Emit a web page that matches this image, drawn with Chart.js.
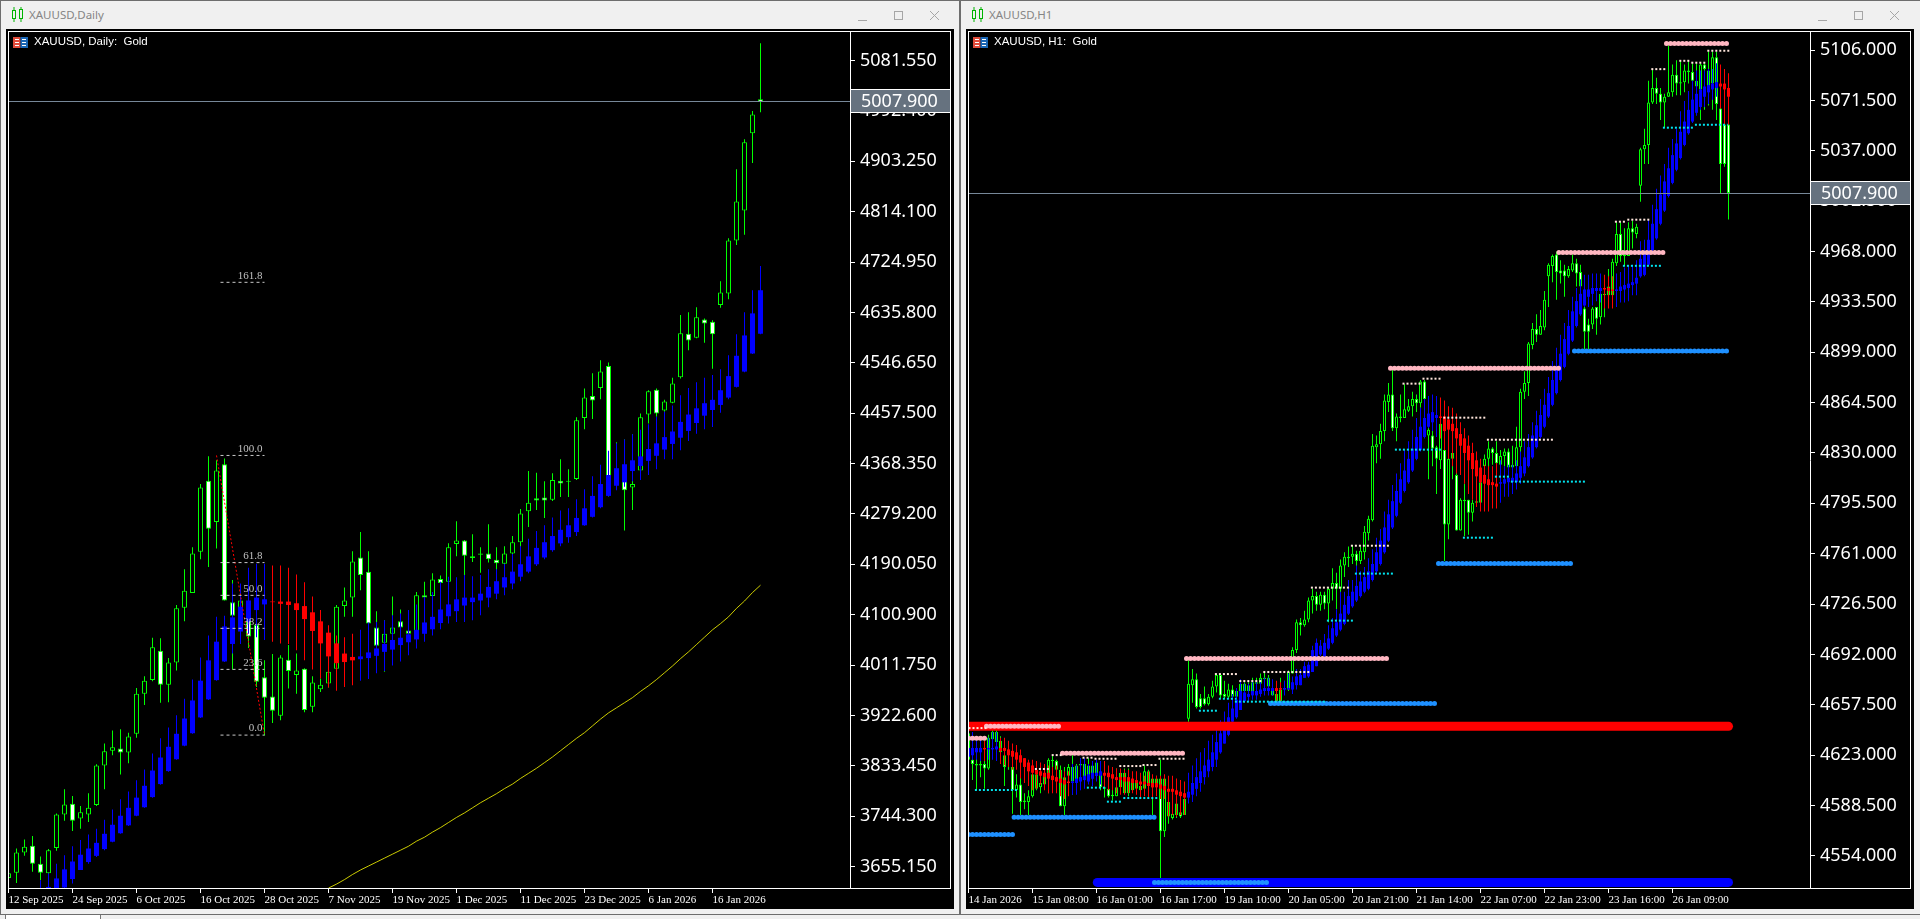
<!DOCTYPE html>
<html>
<head>
<meta charset="utf-8">
<title>XAUUSD</title>
<script src="https://cdn.jsdelivr.net/npm/chart.js@4"></script>
<style>
html, body { margin: 0; padding: 0; width: 1920px; height: 919px; overflow: hidden; background: #f0f0f0; }
.abs { position: absolute; }
.panel { position: absolute; top: 29px; width: 948px; height: 880px; background: #000; }
.frame { position: absolute; top: 31px; width: 943px; height: 858px; box-sizing: border-box; border: 1px solid #fff; z-index: 3; pointer-events: none; }
canvas { position: absolute; top: 32px; z-index: 2; }
.title { position: absolute; top: 7px; font: 11.5px "Noto Sans", sans-serif; color: #858585; }
.legend { position: absolute; top: 35px; font: 11.5px "Liberation Sans Narrow", sans-serif; color: #fff; z-index: 4; white-space: pre; }
svg { position: absolute; z-index: 4; }
</style>
</head>
<body>
<div class="abs" style="left:0;top:0;width:1920px;height:1px;background:#6d6d6d"></div>
<div class="abs" style="left:0;top:0;width:1px;height:914px;background:#6d6d6d"></div>
<div class="abs" style="left:959px;top:0;width:2px;height:914px;background:#6d6d6d"></div>
<div class="abs" style="left:0;top:914px;width:1920px;height:1px;background:#6d6d6d"></div>
<div class="abs" style="left:5px;top:915px;width:94px;height:4px;background:#fff;border-left:1px solid #777;border-right:1px solid #777"></div>

<div class="panel" style="left:6px"></div>
<div class="panel" style="left:966px"></div>
<div class="frame" style="left:8px"></div>
<div class="frame" style="left:968px"></div>
<canvas id="dailyChart" width="943" height="877" style="left:8px"></canvas>
<canvas id="hourChart" width="943" height="877" style="left:968px"></canvas>

<div class="title" style="left:29px">XAUUSD,Daily</div>
<div class="title" style="left:989px">XAUUSD,H1</div>
<div class="legend" style="left:34px">XAUUSD, Daily:  Gold</div>
<div class="legend" style="left:994px">XAUUSD, H1:  Gold</div>

<svg style="left:12px;top:7px" width="12" height="15"><g fill="none" stroke="#00b400"><rect x="0.5" y="3.5" width="3" height="8"/><rect x="7.5" y="2.5" width="3" height="9"/><path d="M2 0v3M2 12v3M9 0v3M9 12v3"/></g></svg>
<svg style="left:972px;top:7px" width="12" height="15"><g fill="none" stroke="#00b400"><rect x="0.5" y="3.5" width="3" height="8"/><rect x="7.5" y="2.5" width="3" height="9"/><path d="M2 0v3M2 12v3M9 0v3M9 12v3"/></g></svg>
<svg style="left:13px;top:37px" width="15" height="11"><rect width="7.5" height="11" fill="#e04b3a"/><rect x="7.5" width="7.5" height="11" fill="#1a66b5"/><path d="M2 2.5h4M2 5.5h4M2 8.5h4M9 2.5h4M9 5.5h4M9 8.5h4" stroke="#fff"/></svg>
<svg style="left:973px;top:37px" width="15" height="11"><rect width="7.5" height="11" fill="#e04b3a"/><rect x="7.5" width="7.5" height="11" fill="#1a66b5"/><path d="M2 2.5h4M2 5.5h4M2 8.5h4M9 2.5h4M9 5.5h4M9 8.5h4" stroke="#fff"/></svg>
<svg style="left:858px;top:10px" width="84" height="12"><g fill="none" stroke="#a6a6a6"><path d="M0 10.5h9"/><rect x="36.5" y="1.5" width="8" height="8"/><path d="M72 1l9 9M81 1l-9 9"/></g></svg>
<svg style="left:1818px;top:10px" width="84" height="12"><g fill="none" stroke="#a6a6a6"><path d="M0 10.5h9"/><rect x="36.5" y="1.5" width="8" height="8"/><path d="M72 1l9 9M81 1l-9 9"/></g></svg>

<script>
const lastPrice = 5007.9;

// Daily chart
const dailyTickDates = ['12 Sep 2025', '24 Sep 2025', '6 Oct 2025', '16 Oct 2025', '28 Oct 2025', '7 Nov 2025',
    '19 Nov 2025', '1 Dec 2025', '11 Dec 2025', '23 Dec 2025', '6 Jan 2026', '16 Jan 2026'];
const dailyPriceTicks = [5081.55, 4992.4, 4903.25, 4814.1, 4724.95, 4635.8, 4546.65, 4457.5, 4368.35, 4279.2,
    4190.05, 4100.9, 4011.75, 3922.6, 3833.45, 3744.3, 3655.15];

const dailyOpen = [
    3635,3644,3680,3692,3660,3643,3688,3747,3766,3740,
    3747,3764,3834,3860,3864,3857,3890,3961,3985,4037,
    3977,4016,4113,4139,4212,4338,4265,4367,4123,4097,
    4092,4083,3990,3956,3922,4021,3994,4005,3938,3969,
    3979,4005,4116,4131,4202,4177,4078,4051,4067,4089,
    4073,4067,4135,4134,4164,4159,4226,4232,4204,4207,
    4209,4198,4191,4209,4229,4284,4307,4308,4304,4338,
    4336,4341,4449,4488,4502,4541,4336,4342,4326,4356,
    4455,4499,4462,4476,4521,4598,4591,4623,4619,4649,
    4669,4763,4816,4953,5013];
const dailyHigh = [
    3646,3687,3703,3709,3673,3686,3749,3792,3780,3762,
    3785,3836,3873,3896,3898,3892,3971,3992,4060,4059,
    4024,4118,4181,4220,4332,4381,4374,4377,4162,4138,
    4115,4091,4020,4031,4029,4047,4032,4006,3992,3988,
    4000,4118,4149,4213,4247,4213,4107,4091,4133,4110,
    4106,4141,4159,4174,4170,4227,4266,4233,4243,4220,
    4261,4220,4222,4240,4288,4355,4352,4337,4351,4376,
    4358,4450,4501,4528,4551,4547,4406,4411,4420,4457,
    4498,4501,4481,4520,4631,4636,4645,4625,4622,4691,
    4767,4889,4942,4992,5112];
const dailyLow = [
    3628,3626,3674,3646,3631,3619,3683,3736,3718,3722,
    3734,3762,3792,3852,3818,3838,3883,3941,3983,3945,
    3946,4002,4089,4139,4199,4185,4218,4126,4004,4050,
    4042,3973,3887,3909,3914,3970,3961,3928,3928,3964,
    3972,4002,4097,4097,4144,4067,4038,4000,4056,4067,
    4061,4061,4079,4132,4138,4156,4204,4169,4194,4175,
    4193,4180,4183,4197,4221,4256,4286,4272,4302,4309,
    4309,4339,4429,4447,4482,4310,4327,4250,4286,4355,
    4439,4451,4460,4475,4519,4569,4590,4582,4536,4644,
    4659,4755,4773,4900,4990];
const dailyClose = [
    3643,3680,3690,3660,3644,3684,3747,3765,3736,3751,
    3759,3834,3859,3866,3857,3885,3961,3984,4043,3977,
    4016,4112,4143,4209,4326,4253,4356,4126,4099,4126,
    4062,3982,3954,3931,4025,4001,4002,3932,3981,3977,
    4000,4115,4126,4195,4171,4085,4046,4067,4078,4078,
    4067,4135,4131,4163,4157,4220,4232,4205,4201,4209,
    4199,4192,4209,4229,4280,4299,4303,4303,4339,4333,
    4338,4445,4485,4480,4531,4321,4351,4321,4332,4450,
    4496,4457,4478,4510,4599,4586,4627,4616,4597,4671,
    4763,4832,4937,4986,5008];

// smoothed candles on top of the price
const dailyHaOpen = [
    null,null,null,null,3595,3600,3607,3618,3633,3649,
    3663,3674,3686,3699,3714,3728,3745,3760,3778,3801,
    3824,3845,3869,3891,3919,3951,3985,4018,4049,4071,
    4089,4109,4119,4124,4124,4124,4121,4116,4105,4089,
    4069,4050,4032,4026,4022,4024,4028,4035,4039,4047,
    4052,4057,4067,4075,4086,4098,4107,4117,4123,4126,
    4131,4138,4149,4156,4168,4177,4190,4202,4215,4227,
    4238,4247,4259,4274,4291,4311,4329,4335,4355,4364,
    4373,4382,4393,4403,4414,4426,4440,4453,4463,4472,
    4485,4504,4531,4563,4598];
const dailyHaHigh = [
    null,null,null,null,3631,3643,3660,3675,3691,3702,
    3712,3722,3738,3756,3774,3788,3808,3827,3855,3882,
    3901,3923,3952,3986,4025,4064,4097,4099,4156,4156,
    4184,4191,4191,4188,4188,4184,4172,4158,4133,4109,
    4082,4064,4061,4067,4074,4087,4088,4091,4100,4103,
    4109,4119,4132,4141,4159,4168,4167,4171,4169,4171,
    4181,4181,4191,4208,4222,4235,4249,4259,4273,4285,
    4289,4305,4323,4346,4366,4391,4404,4411,4420,4428,
    4438,4451,4460,4471,4489,4502,4512,4520,4525,4535,
    4560,4597,4636,4675,4718];
const dailyHaLow = [
    null,null,null,null,3585,3590,3598,3610,3625,3649,
    3660,3672,3684,3698,3713,3727,3744,3759,3777,3800,
    3823,3844,3868,3890,3918,3950,3984,4017,4032,4049,
    4067,4061,4056,4053,4050,4049,4038,4020,4004,3988,
    3972,3966,3973,3976,3984,3987,3997,4001,4011,4018,
    4029,4041,4053,4064,4075,4085,4088,4088,4091,4100,
    4114,4128,4135,4146,4160,4174,4187,4199,4212,4222,
    4228,4240,4258,4273,4289,4310,4321,4327,4337,4339,
    4348,4358,4376,4376,4392,4408,4421,4429,4433,4458,
    4482,4503,4530,4562,4597];
const dailyHaClose = [
    null,null,null,null,3612,3619,3634,3650,3664,3676,
    3687,3697,3713,3729,3745,3759,3777,3798,3825,3848,
    3867,3890,3917,3949,3984,4020,4053,4080,4096,4115,
    4126,4131,4128,4123,4120,4118,4109,4093,4072,4050,
    4027,4015,4017,4020,4027,4034,4041,4049,4056,4060,
    4066,4074,4087,4097,4110,4119,4128,4131,4131,4138,
    4150,4160,4167,4177,4190,4204,4219,4229,4240,4251,
    4259,4272,4289,4311,4332,4348,4360,4367,4374,4381,
    4394,4404,4415,4425,4442,4455,4466,4475,4481,4498,
    4523,4559,4595,4634,4675];

// long moving average, first visible on bar 40
const dailyMaStart = 40;
const dailyMa = [
    3617,3624,3632,3641,3649,3656,3663,3670,3677,3684,
    3691,3700,3707,3716,3724,3733,3742,3750,3759,3768,
    3776,3784,3793,3801,3811,3820,3829,3839,3849,3860,
    3871,3882,3892,3904,3916,3927,3936,3945,3954,3965,
    3975,3986,3998,4010,4023,4035,4048,4061,4074,4085,
    4097,4112,4125,4140,4153];

const fibLabels = ['161.8', '100.0', '61.8', '50.0', '38.2', '23.6', '0.0'];
const fibPrices = [4689, 4382.6, 4193, 4135, 4076.6, 4004, 3887.7];
const fibFromBar = 26.5;
const fibToBar = 32;
const trendBars = [26, 32];
const trendPrices = [4382.6, 3887.7];

// H1 chart
const hourTickDates = ['14 Jan 2026', '15 Jan 08:00', '16 Jan 01:00', '16 Jan 17:00', '19 Jan 10:00', '20 Jan 05:00',
    '20 Jan 21:00', '21 Jan 14:00', '22 Jan 07:00', '22 Jan 23:00', '23 Jan 16:00', '26 Jan 09:00'];
const hourPriceTicks = [5106, 5071.5, 5037, 5002.5, 4968, 4933.5, 4899, 4864.5, 4830, 4795.5, 4761, 4726.5, 4692,
    4657.5, 4623, 4588.5, 4554];

const hourOpen = [
    4620,4620,4617,4617,4617,4614,4634,4639,4625,4623,
    4615,4615,4599,4603,4592,4591,4595,4610,4601,4603,
    4610,4619,4619,4613,4588,4609,4615,4605,4616,4617,
    4607,4607,4609,4610,4601,4600,4595,4595,4601,4611,
    4597,4599,4600,4599,4600,4612,4601,4607,4607,4571,
    4591,4580,4582,4584,4582,4648,4671,4675,4662,4662,
    4658,4663,4670,4678,4665,4663,4668,4663,4672,4667,
    4671,4667,4673,4672,4676,4676,4664,4665,4660,4668,
    4668,4679,4695,4714,4712,4716,4729,4732,4726,4733,
    4727,4737,4741,4737,4753,4758,4759,4761,4756,4762,
    4775,4784,4834,4836,4845,4865,4870,4847,4854,4854,
    4859,4862,4867,4864,4879,4842,4842,4834,4825,4832,
    4781,4826,4815,4777,4798,4798,4789,4796,4796,4821,
    4826,4833,4830,4822,4828,4831,4820,4821,4834,4872,
    4878,4904,4915,4911,4916,4951,4958,4966,4955,4955,
    4951,4955,4960,4954,4929,4918,4918,4930,4923,4939,
    4938,4938,4960,4980,4966,4965,4984,4980,5013,5038,
    5041,5070,5080,5076,5070,5074,5077,5089,5083,5084,
    5092,5091,5081,5079,5096,5079,5083,5101,5066,5055,5055];
const hourHigh = [
    4639,4639,4632,4620,4628,4637,4640,4640,4636,4623,
    4616,4615,4610,4610,4597,4599,4612,4610,4610,4610,
    4621,4623,4620,4616,4615,4617,4623,4617,4621,4617,
    4621,4616,4619,4618,4610,4609,4609,4614,4611,4614,
    4614,4607,4605,4603,4616,4613,4607,4609,4620,4607,
    4591,4586,4590,4590,4593,4688,4682,4679,4665,4670,
    4665,4674,4679,4679,4674,4672,4671,4668,4672,4673,
    4673,4676,4676,4679,4680,4678,4670,4672,4676,4674,
    4681,4697,4716,4717,4722,4731,4737,4735,4735,4735,
    4738,4751,4748,4757,4762,4766,4767,4763,4766,4780,
    4787,4843,4842,4850,4870,4878,4888,4857,4870,4877,
    4867,4872,4870,4880,4880,4860,4848,4835,4850,4850,
    4850,4842,4819,4799,4809,4798,4798,4810,4821,4829,
    4838,4834,4838,4832,4833,4833,4835,4848,4874,4886,
    4906,4919,4925,4928,4941,4960,4966,4968,4962,4959,
    4958,4966,4963,4959,4943,4922,4930,4930,4939,4941,
    4956,4963,4988,4988,4984,4988,4989,4987,5039,5052,
    5085,5093,5087,5080,5076,5109,5096,5099,5099,5096,
    5099,5097,5097,5097,5097,5105,5105,5105,5068,5056,5056];
const hourLow = [
    4615,4606,4599,4608,4600,4613,4625,4628,4617,4602,
    4613,4583,4594,4582,4586,4582,4594,4599,4597,4600,
    4597,4612,4613,4588,4582,4604,4596,4604,4611,4607,
    4606,4606,4608,4599,4594,4594,4592,4595,4600,4597,
    4595,4598,4597,4596,4599,4600,4582,4600,4539,4567,
    4576,4579,4580,4580,4582,4646,4659,4655,4655,4657,
    4657,4662,4666,4662,4662,4662,4662,4661,4665,4665,
    4665,4665,4665,4667,4668,4668,4664,4660,4660,4665,
    4667,4679,4693,4705,4711,4714,4720,4722,4722,4723,
    4714,4729,4723,4729,4745,4752,4754,4748,4754,4757,
    4770,4783,4823,4826,4838,4858,4845,4838,4851,4854,
    4858,4855,4858,4861,4854,4812,4821,4802,4819,4756,
    4771,4812,4777,4777,4773,4774,4783,4793,4796,4805,
    4816,4822,4819,4819,4821,4820,4820,4820,4830,4867,
    4869,4901,4906,4911,4914,4930,4947,4935,4946,4937,
    4950,4954,4944,4944,4901,4901,4915,4911,4918,4923,
    4938,4938,4958,4961,4958,4965,4970,4977,5002,5028,
    5028,5069,5069,5058,5053,5074,5074,5075,5075,5077,
    5083,5079,5072,5058,5065,5068,5065,5058,5008,5026,4990];
const hourClose = [
    4638,4617,4616,4616,4614,4635,4639,4632,4633,4615,
    4615,4599,4603,4591,4591,4595,4610,4600,4604,4610,
    4620,4620,4613,4588,4608,4615,4605,4616,4617,4608,
    4616,4616,4618,4601,4600,4595,4596,4601,4611,4597,
    4606,4606,4604,4602,4612,4602,4607,4602,4571,4607,
    4581,4583,4590,4581,4593,4672,4675,4656,4656,4658,
    4663,4670,4678,4664,4663,4668,4663,4667,4667,4672,
    4667,4673,4672,4676,4675,4670,4668,4660,4668,4669,
    4680,4695,4714,4712,4716,4729,4732,4726,4733,4727,
    4737,4741,4737,4753,4759,4759,4761,4756,4763,4776,
    4785,4835,4836,4845,4866,4870,4847,4855,4855,4860,
    4862,4867,4864,4879,4867,4846,4833,4826,4850,4781,
    4826,4830,4777,4798,4797,4789,4796,4797,4810,4826,
    4833,4830,4823,4828,4831,4820,4822,4834,4872,4878,
    4905,4915,4911,4917,4935,4959,4965,4954,4953,4951,
    4956,4960,4953,4944,4913,4913,4929,4922,4939,4938,
    4944,4961,4980,4965,4965,4984,4981,4985,5038,5041,
    5070,5080,5076,5070,5074,5077,5089,5083,5084,5092,
    5091,5085,5085,5096,5093,5092,5101,5069,5028,5028,5008];

const hourHaOpen = [
    4622,4623,4625,4625,4628,4627,4627,4627,4628,4628,
    4627,4626,4625,4623,4621,4618,4616,4613,4612,4611,
    4611,4609,4608,4607,4606,4605,4604,4604,4605,4606,
    4605,4607,4609,4609,4611,4611,4610,4608,4608,4608,
    4608,4607,4606,4605,4605,4604,4604,4604,4603,4602,
    4600,4600,4599,4598,4597,4594,4596,4600,4604,4608,
    4612,4615,4620,4625,4631,4637,4646,4649,4654,4660,
    4663,4664,4664,4665,4667,4667,4667,4669,4669,4668,
    4668,4668,4671,4671,4676,4677,4680,4684,4692,4691,
    4696,4700,4705,4709,4713,4720,4725,4729,4732,4735,
    4737,4743,4749,4754,4762,4770,4779,4787,4796,4804,
    4810,4818,4826,4832,4841,4848,4851,4854,4855,4855,
    4853,4850,4847,4843,4840,4835,4830,4825,4820,4815,
    4812,4810,4809,4809,4809,4810,4810,4810,4813,4816,
    4821,4827,4834,4841,4848,4855,4863,4871,4880,4889,
    4898,4907,4917,4925,4931,4937,4939,4941,4941,4943,
    4943,4942,4941,4941,4942,4943,4945,4946,4951,4952,
    4959,4969,4977,4987,4996,5006,5015,5024,5032,5041,
    5049,5057,5063,5067,5074,5077,5079,5080,5083,5083,5080];
const hourHaHigh = [
    4639,4639,4636,4635,4633,4635,4639,4639,4635,4635,
    4633,4631,4630,4627,4621,4620,4620,4619,4618,4617,
    4616,4615,4616,4613,4612,4612,4617,4616,4621,4621,
    4617,4619,4620,4619,4619,4616,4615,4614,4614,4613,
    4613,4612,4612,4611,4609,4612,4610,4609,4609,4610,
    4609,4609,4607,4606,4605,4611,4616,4621,4625,4628,
    4633,4637,4641,4647,4653,4659,4665,4669,4675,4672,
    4672,4673,4673,4675,4676,4676,4675,4674,4673,4674,
    4679,4677,4682,4682,4687,4687,4698,4703,4702,4706,
    4712,4717,4723,4735,4735,4743,4743,4753,4749,4752,
    4758,4764,4772,4778,4790,4798,4808,4816,4823,4832,
    4838,4846,4854,4861,4867,4869,4870,4869,4868,4866,
    4862,4861,4857,4851,4847,4842,4837,4831,4826,4822,
    4821,4821,4823,4825,4821,4822,4822,4825,4831,4838,
    4843,4851,4859,4867,4874,4882,4893,4902,4911,4919,
    4928,4937,4943,4949,4952,4952,4953,4953,4953,4952,
    4951,4951,4953,4954,4957,4958,4959,4962,4975,4976,
    4990,5000,5011,5020,5028,5039,5045,5052,5064,5071,
    5078,5085,5092,5092,5092,5093,5093,5097,5096,5093,5090];
const hourHaLow = [
    4619,4620,4620,4619,4619,4620,4620,4619,4617,4616,
    4615,4613,4613,4607,4604,4602,4599,4600,4603,4599,
    4597,4597,4597,4595,4593,4595,4596,4596,4599,4600,
    4603,4602,4605,4603,4601,4599,4599,4597,4596,4596,
    4597,4597,4596,4593,4595,4593,4593,4595,4593,4593,
    4581,4582,4581,4582,4582,4590,4591,4595,4598,4603,
    4608,4612,4615,4624,4631,4636,4645,4648,4654,4659,
    4660,4661,4661,4663,4664,4664,4664,4659,4660,4664,
    4668,4665,4668,4671,4676,4676,4680,4684,4691,4690,
    4695,4699,4704,4708,4712,4719,4724,4728,4731,4734,
    4736,4742,4748,4753,4761,4769,4778,4786,4795,4803,
    4809,4817,4825,4831,4840,4847,4845,4841,4840,4832,
    4826,4821,4816,4815,4809,4802,4798,4793,4790,4790,
    4790,4792,4792,4796,4800,4800,4802,4805,4809,4814,
    4820,4826,4833,4840,4847,4854,4862,4870,4879,4888,
    4897,4906,4916,4924,4930,4930,4931,4934,4933,4929,
    4929,4929,4930,4933,4933,4934,4938,4938,4950,4951,
    4958,4968,4976,4986,4995,5005,5014,5023,5031,5040,
    5048,5056,5061,5065,5067,5069,5072,5074,5066,5055,5055];
const hourHaClose = [
    4628,4628,4628,4628,4627,4628,4628,4629,4626,4626,
    4623,4622,4620,4618,4615,4612,4611,4610,4609,4608,
    4607,4606,4605,4604,4603,4604,4605,4607,4608,4609,
    4610,4611,4611,4612,4609,4608,4607,4606,4606,4605,
    4605,4604,4604,4603,4603,4602,4601,4601,4600,4599,
    4598,4598,4596,4595,4594,4598,4604,4608,4612,4616,
    4620,4625,4632,4638,4644,4649,4655,4661,4667,4666,
    4665,4667,4667,4668,4669,4669,4669,4667,4668,4669,
    4669,4673,4677,4678,4684,4685,4695,4700,4698,4700,
    4703,4710,4714,4720,4726,4732,4735,4739,4742,4745,
    4749,4754,4762,4770,4779,4788,4797,4804,4812,4818,
    4826,4833,4841,4848,4854,4857,4858,4856,4854,4845,
    4846,4845,4840,4835,4830,4825,4819,4814,4810,4809,
    4808,4808,4807,4810,4812,4813,4813,4816,4821,4827,
    4834,4842,4849,4856,4863,4871,4880,4889,4898,4908,
    4917,4927,4934,4939,4942,4942,4943,4943,4943,4942,
    4941,4941,4942,4944,4945,4946,4947,4950,4963,4967,
    4976,4987,4997,5007,5016,5025,5034,5042,5050,5057,
    5065,5072,5076,5079,5081,5082,5083,5084,5081,5079,5074];

// levels as [from bar, to bar, price]
const redLevel = [[-1, 190, 4642.8]];
const blueLevel = [[32.2, 190, 4535.9]];
const pinkLevels = [[0, 4.5, 4634.6], [4.5, 23.5, 4642.8], [23.5, 54.5, 4624.3], [54.5, 105.5, 4689.3],
    [105.5, 147.6, 4888], [147.6, 174.5, 4967.4], [174.5, 190.5, 5110.5]];
const supportLevels = [[0, 11.4, 4568.8], [11.4, 46.5, 4580.5], [46.5, 75.5, 4535.9], [75.5, 117.5, 4658.5],
    [117.5, 151.5, 4754.4], [151.5, 190.3, 4899.8]];
const minorHighs = [[0, 4.5, 4641.6], [16.6, 20.4, 4613.6], [20.8, 23.5, 4623.1], [28.5, 31.5, 4621.3],
    [31.5, 37.5, 4620.6], [37.7, 43.5, 4615.6], [43.5, 47.5, 4616.3], [47.5, 54.5, 4620.6], [61.6, 67.5, 4678.6],
    [67.7, 73.7, 4673.8], [73.7, 85.4, 4680], [85.6, 95.4, 4737.8], [95.6, 105.4, 4766.5], [108.5, 113.5, 4877.5],
    [113.5, 118.4, 4880.9], [118.7, 129.4, 4854.2], [129.6, 146.4, 4839.1], [161.6, 164.4, 4988.4],
    [164.7, 170.4, 4989.8], [170.7, 174.4, 5092.9], [177.7, 180.4, 5098.6], [180.7, 184.4, 5097.3],
    [184.7, 190.4, 5105.5]];
const minorLows = [[1.6, 12.5, 4599.2], [29.6, 34.3, 4600.8], [34.6, 38.5, 4591.2], [38.7, 47.5, 4593.7],
    [57.6, 62.3, 4653.5], [62.6, 67, 4661.7], [66.6, 89.5, 4659.7], [89.6, 96.4, 4715.2], [96.6, 106.4, 4747.4],
    [106.6, 118.4, 4832.3], [123.6, 131.4, 4772], [131.6, 135.4, 4813.8], [135.6, 154.4, 4810.4],
    [163.6, 173.4, 4958.2], [173.6, 181.4, 5052.8], [181.6, 189.8, 5054.8]];

function candleSets(open, high, low, close, bodyWidth, order) {
    var wick = [], body = [], fill = [];
    open.forEach(function(o, i) {
        wick.push({ x: i, y: [low[i], high[i]] });
        body.push({ x: i, y: [o, close[i]] });
        fill.push(close[i] >= o ? '#000000' : '#ffffff');
    });
    return [
        { type: 'bar', data: wick, barThickness: 1, backgroundColor: '#00ff00', order: order + 1 },
        { type: 'bar', data: body, barThickness: bodyWidth, backgroundColor: fill, borderColor: '#00ff00', borderWidth: 1, order: order }
    ];
}

function haSets(open, high, low, close, bodyWidth, order) {
    var wick = [], body = [];
    open.forEach(function(o, i) {
        if (o === null) return;
        wick.push({ x: i, y: [low[i], high[i]] });
        body.push({ x: i, y: [o, close[i]] });
    });
    var colors = body.map(function(b) { return b.y[1] >= b.y[0] ? '#0000ff' : '#ff0000'; });
    return [
        { type: 'bar', data: wick, barThickness: 1, backgroundColor: colors, order: order + 1 },
        { type: 'bar', data: body, barThickness: bodyWidth, backgroundColor: colors, order: order }
    ];
}

function levelSets(levels, style, order) {
    return levels.map(function(l) {
        return Object.assign({
            type: 'line',
            data: [{ x: l[0], y: l[2] }, { x: l[1], y: l[2] }],
            pointRadius: 0,
            order: order
        }, style);
    });
}

const pinkStyle = { borderColor: '#ffb6c1', borderWidth: 5, borderDash: [0, 4], borderCapStyle: 'round' };
const supportStyle = { borderColor: '#1e90ff', borderWidth: 5, borderDash: [0, 4], borderCapStyle: 'round' };
const highStyle = { borderColor: '#ffe6dc', borderWidth: 2, borderDash: [2, 2] };
const lowStyle = { borderColor: '#00e5f0', borderWidth: 2, borderDash: [2, 2] };

function priceRow(chart, price) {
    return Math.floor(chart.scales.y.getPixelForValue(price) - 0.15);
}

const overlay = {
    id: 'overlay',
    afterDatasetsDraw: function(chart, args, opts) {
        var ctx = chart.ctx, x = chart.scales.x, y = chart.scales.y, area = chart.chartArea;
        ctx.save();
        (opts.labels || []).forEach(function(text, i) {
            ctx.font = '11px "Liberation Sans Narrow"';
            ctx.fillStyle = '#c0c0c0';
            ctx.textAlign = 'right';
            ctx.textBaseline = 'bottom';
            ctx.fillText(text, x.getPixelForValue(31.75), y.getPixelForValue(opts.prices[i]) - 1);
        });
        ctx.fillStyle = '#778899';
        ctx.fillRect(area.left, priceRow(chart, opts.price), area.right - area.left, 1);
        ctx.restore();
    },
    afterDraw: function(chart, args, opts) {
        var ctx = chart.ctx, area = chart.chartArea;
        var py = priceRow(chart, opts.price);
        var left = area.right + 1, width = chart.width - left - 1;
        ctx.save();
        ctx.fillStyle = '#ffffff';
        ctx.fillRect(left, py - 12, width, 24);
        ctx.fillStyle = '#66727f';
        ctx.fillRect(left, py - 11, width, 22);
        ctx.font = '18px "Noto Sans"';
        ctx.fillStyle = '#ffffff';
        ctx.textAlign = 'left';
        ctx.textBaseline = 'middle';
        ctx.fillText(opts.price.toFixed(3), area.right + 11, py + 1);
        ctx.restore();
    }
};

function drawChart(canvasId, datasets, barStep, barsPerTick, tickDates, priceTicks, yMin, yMax, overlayOpts) {
    var plotWidth = 842;
    var xMin = -0.5 / barStep;
    var xTicks = tickDates.map(function(d, i) { return { value: i * barsPerTick }; });
    datasets.forEach(function(d) {
        if (d.type === 'bar') {
            d.grouped = false;
            d.borderSkipped = false;
            d.inflateAmount = 0;
        }
    });
    new Chart(document.getElementById(canvasId), {
        type: 'bar',
        data: { datasets: datasets },
        plugins: [overlay],
        options: {
            responsive: false,
            animation: false,
            devicePixelRatio: 1,
            events: [],
            layout: { padding: 0 },
            plugins: { legend: { display: false }, tooltip: { enabled: false }, overlay: overlayOpts },
            scales: {
                x: {
                    type: 'linear',
                    offset: false,
                    min: xMin,
                    max: xMin + plotWidth / barStep,
                    border: { color: '#ffffff' },
                    grid: { offset: false, drawOnChartArea: false, tickColor: '#ffffff', tickLength: 5 },
                    ticks: {
                        autoSkip: false,
                        maxRotation: 0,
                        align: 'start',
                        padding: 1,
                        color: '#ffffff',
                        font: { family: 'Liberation Sans Narrow', size: 11 },
                        callback: function(v) { return tickDates[v / barsPerTick]; }
                    },
                    afterBuildTicks: function(axis) { axis.ticks = xTicks; },
                    afterFit: function(axis) { axis.height = 21; axis.paddingLeft = 0; axis.paddingRight = 0; }
                },
                y: {
                    position: 'right',
                    min: yMin,
                    max: yMax,
                    border: { color: '#ffffff' },
                    grid: { drawOnChartArea: false, tickColor: '#ffffff', tickLength: 5 },
                    ticks: {
                        padding: 5,
                        color: '#ffffff',
                        font: { family: 'Noto Sans', size: 18 },
                        callback: function(v) { return v.toFixed(3); }
                    },
                    afterBuildTicks: function(axis) { axis.ticks = priceTicks.map(function(v) { return { value: v }; }); },
                    afterFit: function(axis) { axis.width = 101; axis.paddingTop = 0; axis.paddingBottom = 0; }
                }
            }
        }
    });
}

var dailySets = candleSets(dailyOpen, dailyHigh, dailyLow, dailyClose, 5, 20)
    .concat(haSets(dailyHaOpen, dailyHaHigh, dailyHaLow, dailyHaClose, 5, 10));
dailySets.push({
    type: 'line',
    data: dailyMa.map(function(v, i) { return { x: i + dailyMaStart, y: v }; }),
    borderColor: '#ffff00', borderWidth: 0.8, pointRadius: 0, order: 5
});
dailySets.push({
    type: 'line',
    data: trendBars.map(function(b, i) { return { x: b, y: trendPrices[i] }; }),
    borderColor: '#ff0000', borderWidth: 1, borderDash: [2, 2], pointRadius: 0, order: 4
});
fibPrices.forEach(function(p) {
    dailySets.push({
        type: 'line',
        data: [{ x: fibFromBar, y: p }, { x: fibToBar, y: p }],
        borderColor: '#c8c8c8', borderWidth: 1, borderDash: [3, 3], pointRadius: 0, order: 3
    });
});

drawChart('dailyChart', dailySets, 8, 8, dailyTickDates, dailyPriceTicks, 3617.1, 5132, {
    price: lastPrice, labels: fibLabels, prices: fibPrices
});

var hourSets = candleSets(hourOpen, hourHigh, hourLow, hourClose, 3, 20)
    .concat(haSets(hourHaOpen, hourHaHigh, hourHaLow, hourHaClose, 3, 10))
    .concat(levelSets(blueLevel, { borderColor: '#0000ff', borderWidth: 9, borderCapStyle: 'round' }, 5))
    .concat(levelSets(redLevel, { borderColor: '#ff0000', borderWidth: 9, borderCapStyle: 'round' }, 5))
    .concat(levelSets(pinkLevels, pinkStyle, 4))
    .concat(levelSets(supportLevels, supportStyle, 4))
    .concat(levelSets(minorHighs, highStyle, 3))
    .concat(levelSets(minorLows, lowStyle, 3));

drawChart('hourChart', hourSets, 4, 16, hourTickDates, hourPriceTicks, 4532.08, 5118.33, {
    price: lastPrice
});
</script>
</body>
</html>
